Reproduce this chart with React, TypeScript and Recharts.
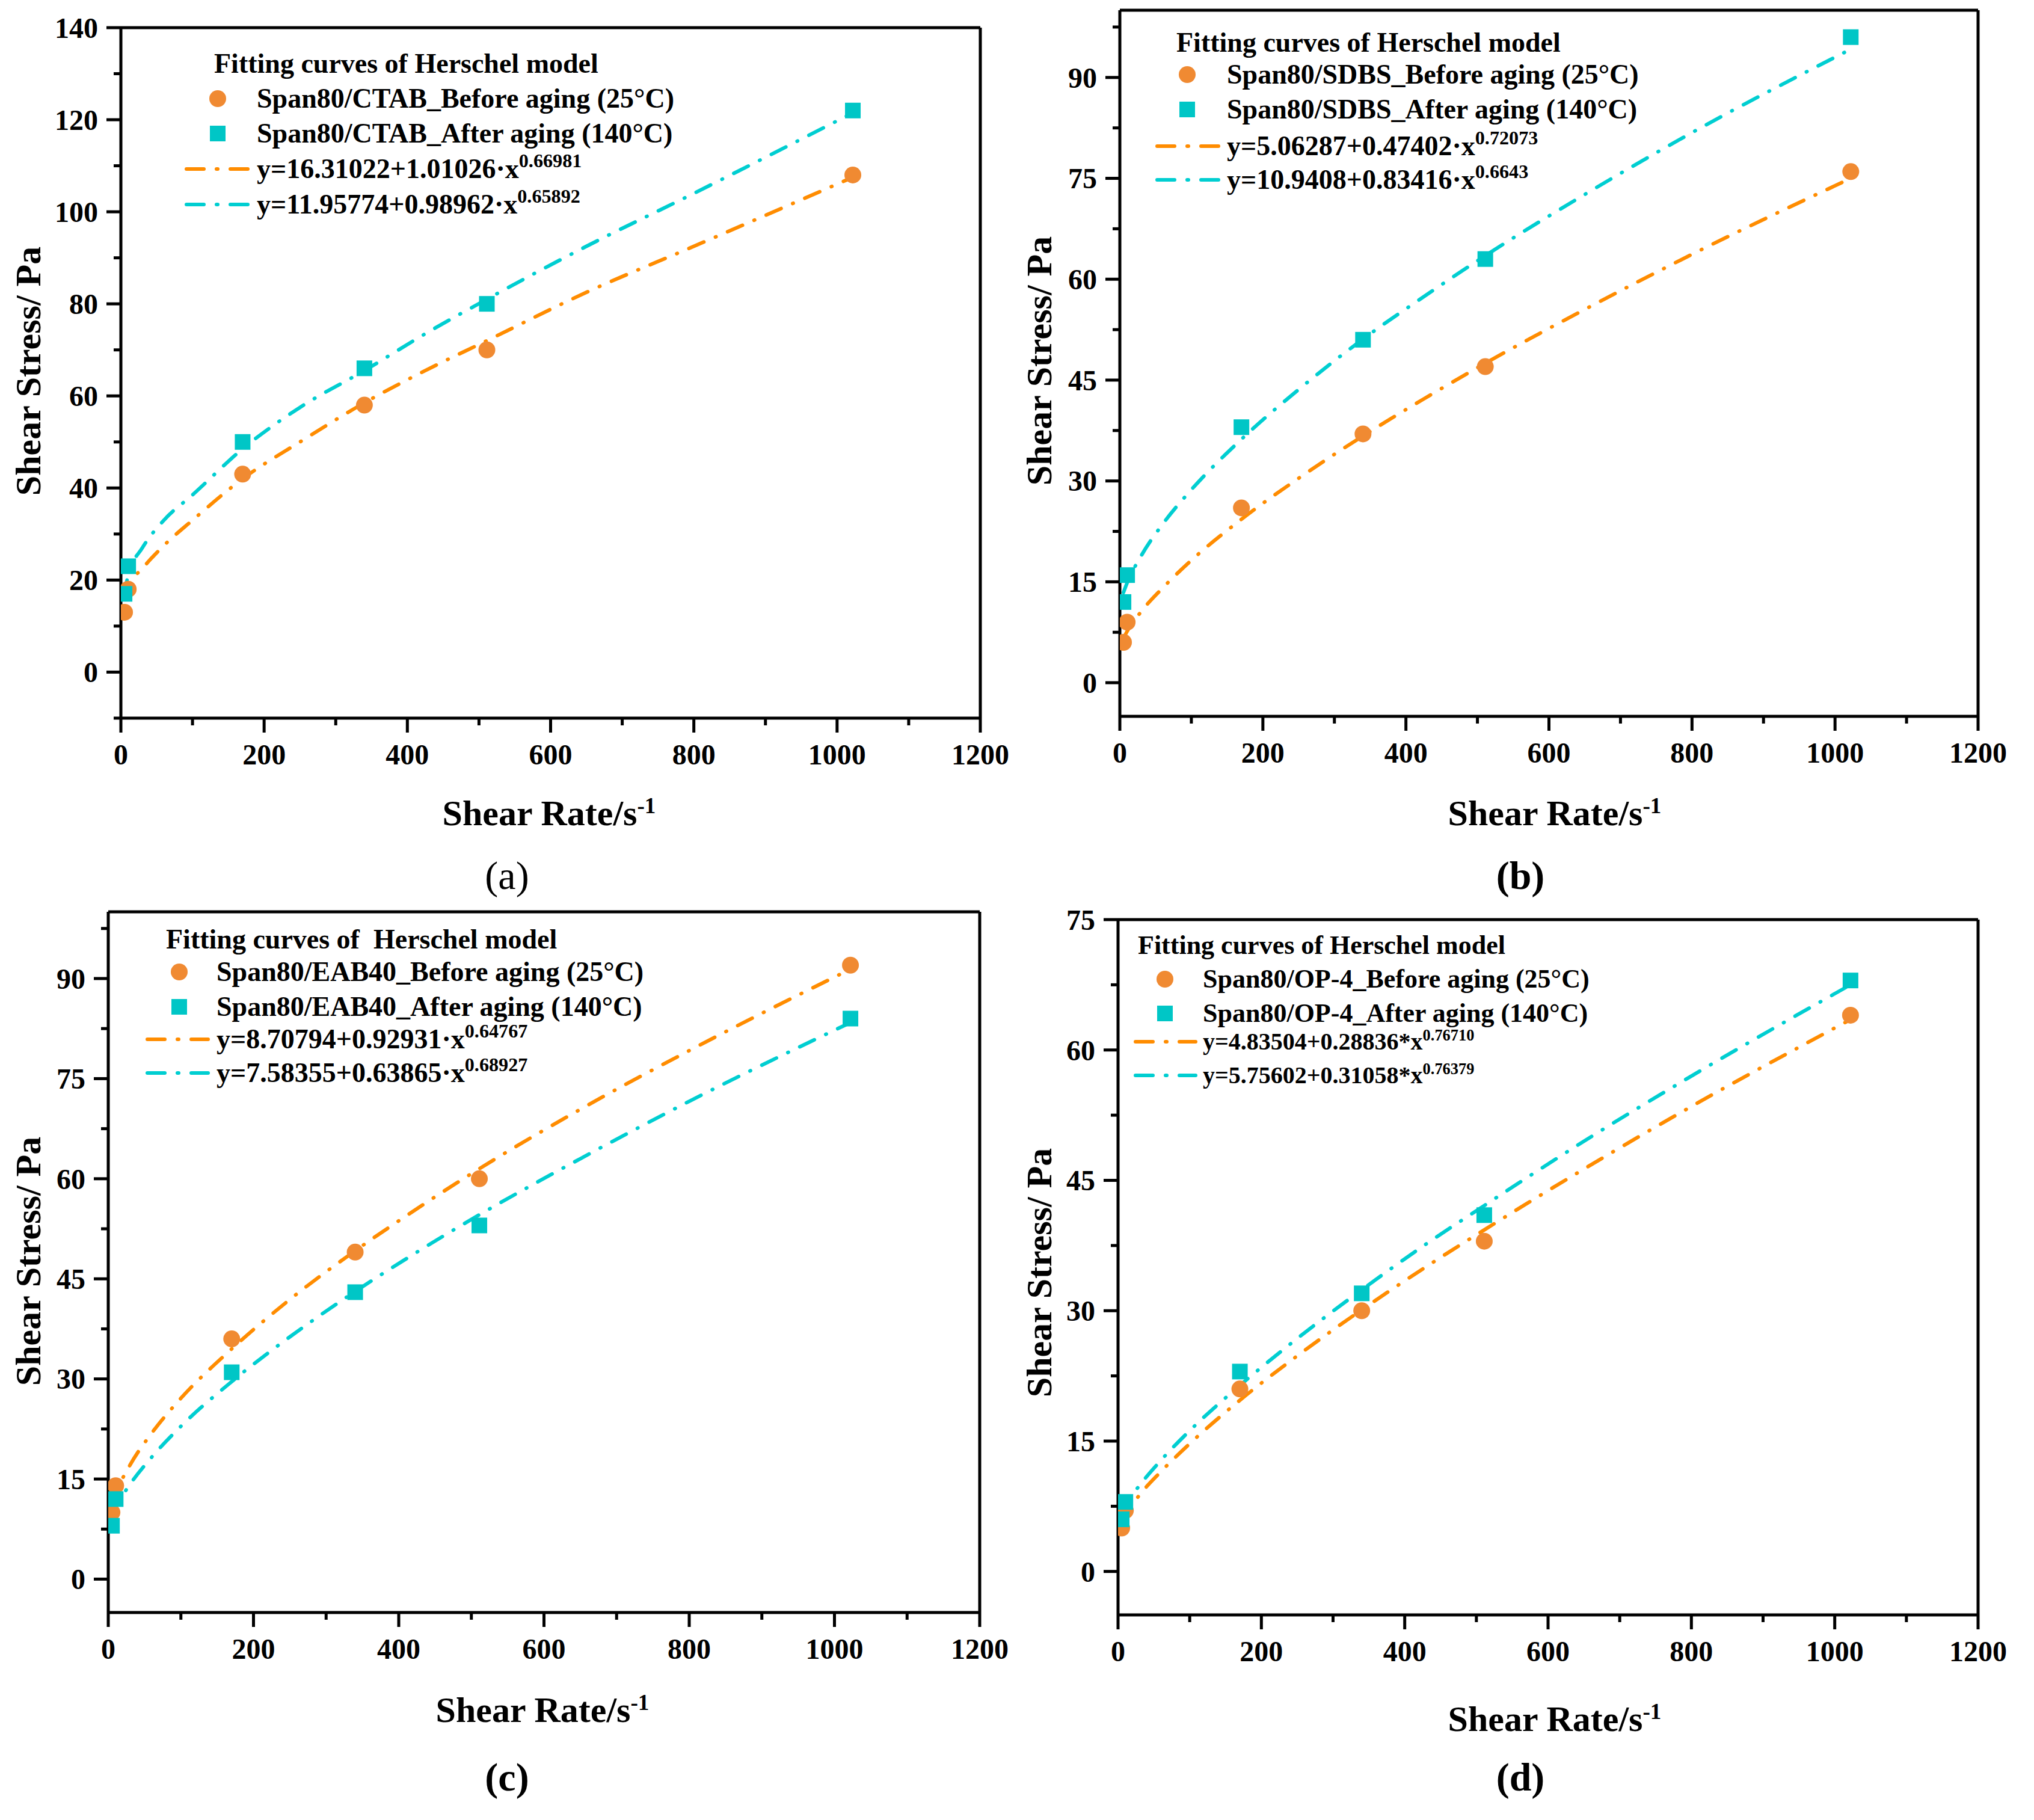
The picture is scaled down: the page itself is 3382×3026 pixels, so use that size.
import React from 'react';
import { ComposedChart, Line, Scatter, XAxis, YAxis, ReferenceLine } from 'recharts';

const FONT = '"Liberation Serif", "Times New Roman", serif';
const ORANGE_LINE = '#FF8C00';
const CYAN_LINE = '#00CED1';
const ORANGE_DOT = '#F08A32';
const CYAN_DOT = '#00C6C6';
const DASH = '27 21 1 21';

// shared x values
const shearRates = [5.1, 10.2, 170, 340, 511, 1022];
const fitRates = [5, 10, 30, 60, 100, 170, 250, 340, 425, 511, 650, 800, 1022];
const xMajorTicks = [0, 200, 400, 600, 800, 1000, 1200];
const xMinorTicks = [100, 300, 500, 700, 900, 1100];

// (a) Span80/CTAB
const ctabBefore = [13, 18, 43, 58, 70, 108];
const ctabAfter = [17, 23, 50, 66, 80, 122];
const ctabBeforeFit = [16, 18.5, 22.5, 27.5, 33, 42, 50, 58.5, 65.5, 72, 82.5, 92.5, 107.5];
const ctabAfterFit = [16.5, 21, 27, 33, 38.5, 48.5, 57.5, 65.5, 73.5, 81, 92.5, 104, 121.5];
const ctabYMajor = [0, 20, 40, 60, 80, 100, 120, 140];
const ctabYMinor = [-10, 10, 30, 50, 70, 90, 110, 130];

// (b) Span80/SDBS
const sdbsBefore = [6, 9, 26, 37, 47, 76];
const sdbsAfter = [12, 16, 38, 51, 63, 96];
const sdbsBeforeFit = [6.6, 7.6, 10.6, 14.1, 18.2, 24.3, 30.4, 36.7, 42.2, 47.5, 55.5, 63.7, 75.0];
const sdbsAfterFit = [13.4, 14.8, 18.9, 23.6, 28.7, 36.2, 43.6, 51.1, 57.4, 63.5, 72.6, 81.8, 94.2];
const sdbsYMajor = [0, 15, 30, 45, 60, 75, 90];
const sdbsYMinor = [7.5, 22.5, 37.5, 52.5, 67.5, 82.5, 97.5];

// (c) Span80/EAB40
const eabBefore = [10, 14, 36, 49, 60, 92];
const eabAfter = [8, 12, 31, 43, 53, 84];
const eabBeforeFit = [11.3, 12.8, 17.1, 21.9, 27.1, 34.5, 41.9, 49.2, 55.5, 61.5, 70.4, 79.2, 91.4];
const eabAfterFit = [9.5, 10.7, 14.2, 18.3, 22.9, 29.6, 36.3, 43.1, 49.0, 54.6, 63.0, 71.6, 83.4];
const eabYMajor = [0, 15, 30, 45, 60, 75, 90];
const eabYMinor = [7.5, 22.5, 37.5, 52.5, 67.5, 82.5, 97.5];

// (d) Span80/OP-4
const opBefore = [5, 7, 21, 30, 38, 64];
const opAfter = [6, 8, 23, 32, 41, 68];
const opBeforeFit = [5.8, 6.5, 8.8, 11.5, 14.7, 19.7, 24.8, 30.1, 34.8, 39.3, 46.3, 53.5, 63.5];
const opAfterFit = [6.8, 7.6, 9.9, 12.8, 16.2, 21.4, 26.8, 32.4, 37.4, 42.1, 49.5, 57.0, 67.5];
const opYMajor = [0, 15, 30, 45, 60, 75];
const opYMinor = [7.5, 22.5, 37.5, 52.5, 67.5];

const TICK = 24;
const MINOR = 12;
const TICK_FONT = 48;

const toPts = (xs: number[], ys: number[]) => xs.map((x, i) => ({ x, y: ys[i] }));

function XTick(props: any) {
  const { x, y, payload } = props;
  const axisY = y - TICK;
  const major = xMajorTicks.includes(payload.value);
  return (
    <g>
      <line x1={x} x2={x} y1={axisY} y2={axisY + (major ? TICK : MINOR)} stroke="#000" strokeWidth={5} />
      {major && (
        <text x={x} y={axisY + 77} textAnchor="middle" fontFamily={FONT} fontWeight="bold" fontSize={TICK_FONT} fill="#000">
          {payload.value}
        </text>
      )}
    </g>
  );
}

function makeYTick(major: number[]) {
  return (props: any) => {
    const { x, y, payload } = props;
    const axisX = x + TICK;
    const isMajor = major.includes(payload.value);
    return (
      <g>
        <line x1={axisX} x2={axisX - (isMajor ? TICK : MINOR)} y1={y} y2={y} stroke="#000" strokeWidth={5} />
        {isMajor && (
          <text x={axisX - 38} y={y} dy="0.35em" textAnchor="end" fontFamily={FONT} fontWeight="bold" fontSize={TICK_FONT} fill="#000">
            {payload.value}
          </text>
        )}
      </g>
    );
  };
}

const circleShape = (p: any) => <circle cx={p.cx} cy={p.cy} r={14} fill={ORANGE_DOT} />;
const squareShape = (p: any) => <rect x={p.cx - 13} y={p.cy - 13} width={26} height={26} fill={CYAN_DOT} />;

type Plot = { l: number; r: number; t: number; b: number };

function Chart(props: {
  plot: Plot;
  yDomain: [number, number];
  yMajor: number[];
  yMinor: number[];
  before: number[];
  after: number[];
  beforeFit: number[];
  afterFit: number[];
}) {
  const { plot, yDomain, yMajor, yMinor, before, after, beforeFit, afterFit } = props;
  const YW = 160;
  const XH = 110;
  const MT = 40;
  const MR = 80;
  const width = plot.r - plot.l + YW + MR;
  const height = plot.b - plot.t + MT + XH;
  const xTicks = [...xMajorTicks, ...xMinorTicks].sort((a, b) => a - b);
  const yTicks = [...yMajor, ...yMinor].sort((a, b) => a - b);
  return (
    <div style={{ position: 'absolute', left: plot.l - YW, top: plot.t - MT }}>
      <ComposedChart width={width} height={height} margin={{ top: MT, right: MR, bottom: 0, left: 0 }}>
        <XAxis
          type="number"
          dataKey="x"
          domain={[0, 1200]}
          ticks={xTicks}
          interval={0}
          allowDataOverflow
          height={XH}
          tickSize={TICK}
          tickMargin={0}
          tickLine={false}
          axisLine={{ stroke: '#000', strokeWidth: 5 }}
          tick={(p: any) => <XTick {...p} />}
        />
        <YAxis
          type="number"
          dataKey="y"
          domain={yDomain}
          ticks={yTicks}
          interval={0}
          allowDataOverflow
          width={YW}
          tickSize={TICK}
          tickMargin={0}
          tickLine={false}
          axisLine={{ stroke: '#000', strokeWidth: 5 }}
          tick={makeYTick(yMajor)}
        />
        <ReferenceLine x={1200} stroke="#000" strokeWidth={5} />
        <ReferenceLine y={yDomain[1]} stroke="#000" strokeWidth={5} />
        <Line
          data={toPts(fitRates, beforeFit)}
          dataKey="y"
          type="monotone"
          stroke={ORANGE_LINE}
          strokeWidth={6}
          strokeDasharray={DASH}
          strokeLinecap="round"
          dot={false}
          activeDot={false}
          isAnimationActive={false}
        />
        <Line
          data={toPts(fitRates, afterFit)}
          dataKey="y"
          type="monotone"
          stroke={CYAN_LINE}
          strokeWidth={6}
          strokeDasharray={DASH}
          strokeLinecap="round"
          dot={false}
          activeDot={false}
          isAnimationActive={false}
        />
        <Scatter data={toPts(shearRates, before)} dataKey="y" shape={circleShape} isAnimationActive={false} />
        <Scatter data={toPts(shearRates, after)} dataKey="y" shape={squareShape} isAnimationActive={false} />
      </ComposedChart>
    </div>
  );
}

function Txt(props: { x: number; y: number; size: number; bold?: boolean; anchor?: 'left' | 'center'; rotate?: boolean; children: any }) {
  const { x, y, size, bold = true, anchor = 'left', rotate = false, children } = props;
  let transform = anchor === 'center' ? 'translate(-50%, -50%)' : 'translate(0, -50%)';
  if (rotate) transform = 'translate(-50%, -50%) rotate(-90deg)';
  return (
    <div
      style={{
        position: 'absolute',
        left: x,
        top: y,
        transform,
        fontFamily: FONT,
        fontWeight: bold ? 'bold' : 'normal',
        fontSize: size,
        lineHeight: 1,
        whiteSpace: 'pre',
        color: '#000',
      }}
    >
      {children}
    </div>
  );
}

const Sup = ({ children, scale = 0.62 }: { children: any; scale?: number }) => (
  <span style={{ fontSize: `${scale}em`, position: 'relative', top: '-0.55em', lineHeight: 0.8 }}>{children}</span>
);

function LegendBlock(props: {
  titleX: number;
  markerX: number;
  lineX1: number;
  lineX2: number;
  textX: number;
  rows: number[];
  title: string;
  beforeLabel: string;
  afterLabel: string;
  fitBefore: [string, string];
  fitAfter: [string, string];
  size: number;
  fitSize: number;
  supScale: number;
}) {
  const p = props;
  const lineW = p.lineX2 - p.lineX1;
  const lineSample = (color: string, y: number) => (
    <svg style={{ position: 'absolute', left: p.lineX1, top: y - 5 }} width={lineW} height={10}>
      <line x1={3} x2={lineW - 3} y1={5} y2={5} stroke={color} strokeWidth={6} strokeDasharray="29 21 2 21" strokeLinecap="round" />
    </svg>
  );
  return (
    <>
      <Txt x={p.titleX} y={p.rows[0]} size={p.size}>{p.title}</Txt>
      <svg style={{ position: 'absolute', left: p.markerX - 15, top: p.rows[1] - 15 }} width={30} height={30}>
        <circle cx={15} cy={15} r={14} fill={ORANGE_DOT} />
      </svg>
      <Txt x={p.textX} y={p.rows[1]} size={p.size}>{p.beforeLabel}</Txt>
      <svg style={{ position: 'absolute', left: p.markerX - 13, top: p.rows[2] - 13 }} width={26} height={26}>
        <rect x={0} y={0} width={26} height={26} fill={CYAN_DOT} />
      </svg>
      <Txt x={p.textX} y={p.rows[2]} size={p.size}>{p.afterLabel}</Txt>
      {lineSample(ORANGE_LINE, p.rows[3])}
      <Txt x={p.textX} y={p.rows[3]} size={p.fitSize}>
        {p.fitBefore[0]}
        <Sup scale={p.supScale}>{p.fitBefore[1]}</Sup>
      </Txt>
      {lineSample(CYAN_LINE, p.rows[4])}
      <Txt x={p.textX} y={p.rows[4]} size={p.fitSize}>
        {p.fitAfter[0]}
        <Sup scale={p.supScale}>{p.fitAfter[1]}</Sup>
      </Txt>
    </>
  );
}

function AxisTitles(props: { xTitle: [number, number]; yTitle: [number, number]; caption: [number, number]; label: string; captionBold: boolean }) {
  const { xTitle, yTitle, caption, label, captionBold } = props;
  return (
    <>
      <Txt x={xTitle[0]} y={xTitle[1]} size={60} anchor="center">
        Shear Rate/s<Sup>-1</Sup>
      </Txt>
      <Txt x={yTitle[0]} y={yTitle[1]} size={60} rotate>
        Shear Stress/ Pa
      </Txt>
      <Txt x={caption[0]} y={caption[1]} size={66} anchor="center" bold={captionBold}>
        {label}
      </Txt>
    </>
  );
}

export default function App() {
  return (
    <div style={{ position: 'absolute', left: 0, top: 0, width: 3382, height: 3026, background: '#fff', overflow: 'hidden' }}>
      {/* (a) */}
      <Chart
        plot={{ l: 201, r: 1630, t: 46, b: 1194 }}
        yDomain={[-10, 140]}
        yMajor={ctabYMajor}
        yMinor={ctabYMinor}
        before={ctabBefore}
        after={ctabAfter}
        beforeFit={ctabBeforeFit}
        afterFit={ctabAfterFit}
      />
      <LegendBlock
        titleX={356}
        markerX={362}
        lineX1={307}
        lineX2={415}
        textX={427}
        rows={[106, 164, 222, 281, 340]}
        title="Fitting curves of Herschel model"
        beforeLabel="Span80/CTAB_Before aging (25°C)"
        afterLabel="Span80/CTAB_After aging (140°C)"
        fitBefore={['y=16.31022+1.01026·x', '0.66981']}
        fitAfter={['y=11.95774+0.98962·x', '0.65892']}
        size={46}
        fitSize={46}
        supScale={0.7}
      />
      <AxisTitles xTitle={[913, 1352]} yTitle={[47, 617]} caption={[843, 1456]} label="(a)" captionBold={false} />

      {/* (b) */}
      <Chart
        plot={{ l: 1862, r: 3289, t: 17, b: 1191 }}
        yDomain={[-5, 100]}
        yMajor={sdbsYMajor}
        yMinor={sdbsYMinor}
        before={sdbsBefore}
        after={sdbsAfter}
        beforeFit={sdbsBeforeFit}
        afterFit={sdbsAfterFit}
      />
      <LegendBlock
        titleX={1956}
        markerX={1974}
        lineX1={1921}
        lineX2={2031}
        textX={2040}
        rows={[71, 124, 182, 243, 299]}
        title="Fitting curves of Herschel model"
        beforeLabel="Span80/SDBS_Before aging (25°C)"
        afterLabel="Span80/SDBS_After aging (140°C)"
        fitBefore={['y=5.06287+0.47402·x', '0.72073']}
        fitAfter={['y=10.9408+0.83416·x', '0.6643']}
        size={46}
        fitSize={46}
        supScale={0.7}
      />
      <AxisTitles xTitle={[2585, 1352]} yTitle={[1728, 600]} caption={[2528, 1456]} label="(b)" captionBold={true} />

      {/* (c) */}
      <Chart
        plot={{ l: 180, r: 1629, t: 1516, b: 2681 }}
        yDomain={[-5, 100]}
        yMajor={eabYMajor}
        yMinor={eabYMinor}
        before={eabBefore}
        after={eabAfter}
        beforeFit={eabBeforeFit}
        afterFit={eabAfterFit}
      />
      <LegendBlock
        titleX={276}
        markerX={298}
        lineX1={242}
        lineX2={349}
        textX={360}
        rows={[1562, 1616, 1674, 1728, 1784]}
        title="Fitting curves of  Herschel model"
        beforeLabel="Span80/EAB40_Before aging (25°C)"
        afterLabel="Span80/EAB40_After aging (140°C)"
        fitBefore={['y=8.70794+0.92931·x', '0.64767']}
        fitAfter={['y=7.58355+0.63865·x', '0.68927']}
        size={46}
        fitSize={46}
        supScale={0.7}
      />
      <AxisTitles xTitle={[902, 2843]} yTitle={[47, 2097]} caption={[843, 2955]} label="(c)" captionBold={true} />

      {/* (d) */}
      <Chart
        plot={{ l: 1859, r: 3289, t: 1529, b: 2685 }}
        yDomain={[-5, 75]}
        yMajor={opYMajor}
        yMinor={opYMinor}
        before={opBefore}
        after={opAfter}
        beforeFit={opBeforeFit}
        afterFit={opAfterFit}
      />
      <LegendBlock
        titleX={1892}
        markerX={1937}
        lineX1={1885}
        lineX2={1991}
        textX={2000}
        rows={[1572, 1628, 1685, 1732, 1788]}
        title="Fitting curves of Herschel model"
        beforeLabel="Span80/OP-4_Before aging (25°C)"
        afterLabel="Span80/OP-4_After aging (140°C)"
        fitBefore={['y=4.83504+0.28836*x', '0.76710']}
        fitAfter={['y=5.75602+0.31058*x', '0.76379']}
        size={44}
        fitSize={40}
        supScale={0.66}
      />
      <AxisTitles xTitle={[2585, 2858]} yTitle={[1728, 2116]} caption={[2528, 2955]} label="(d)" captionBold={true} />
    </div>
  );
}
